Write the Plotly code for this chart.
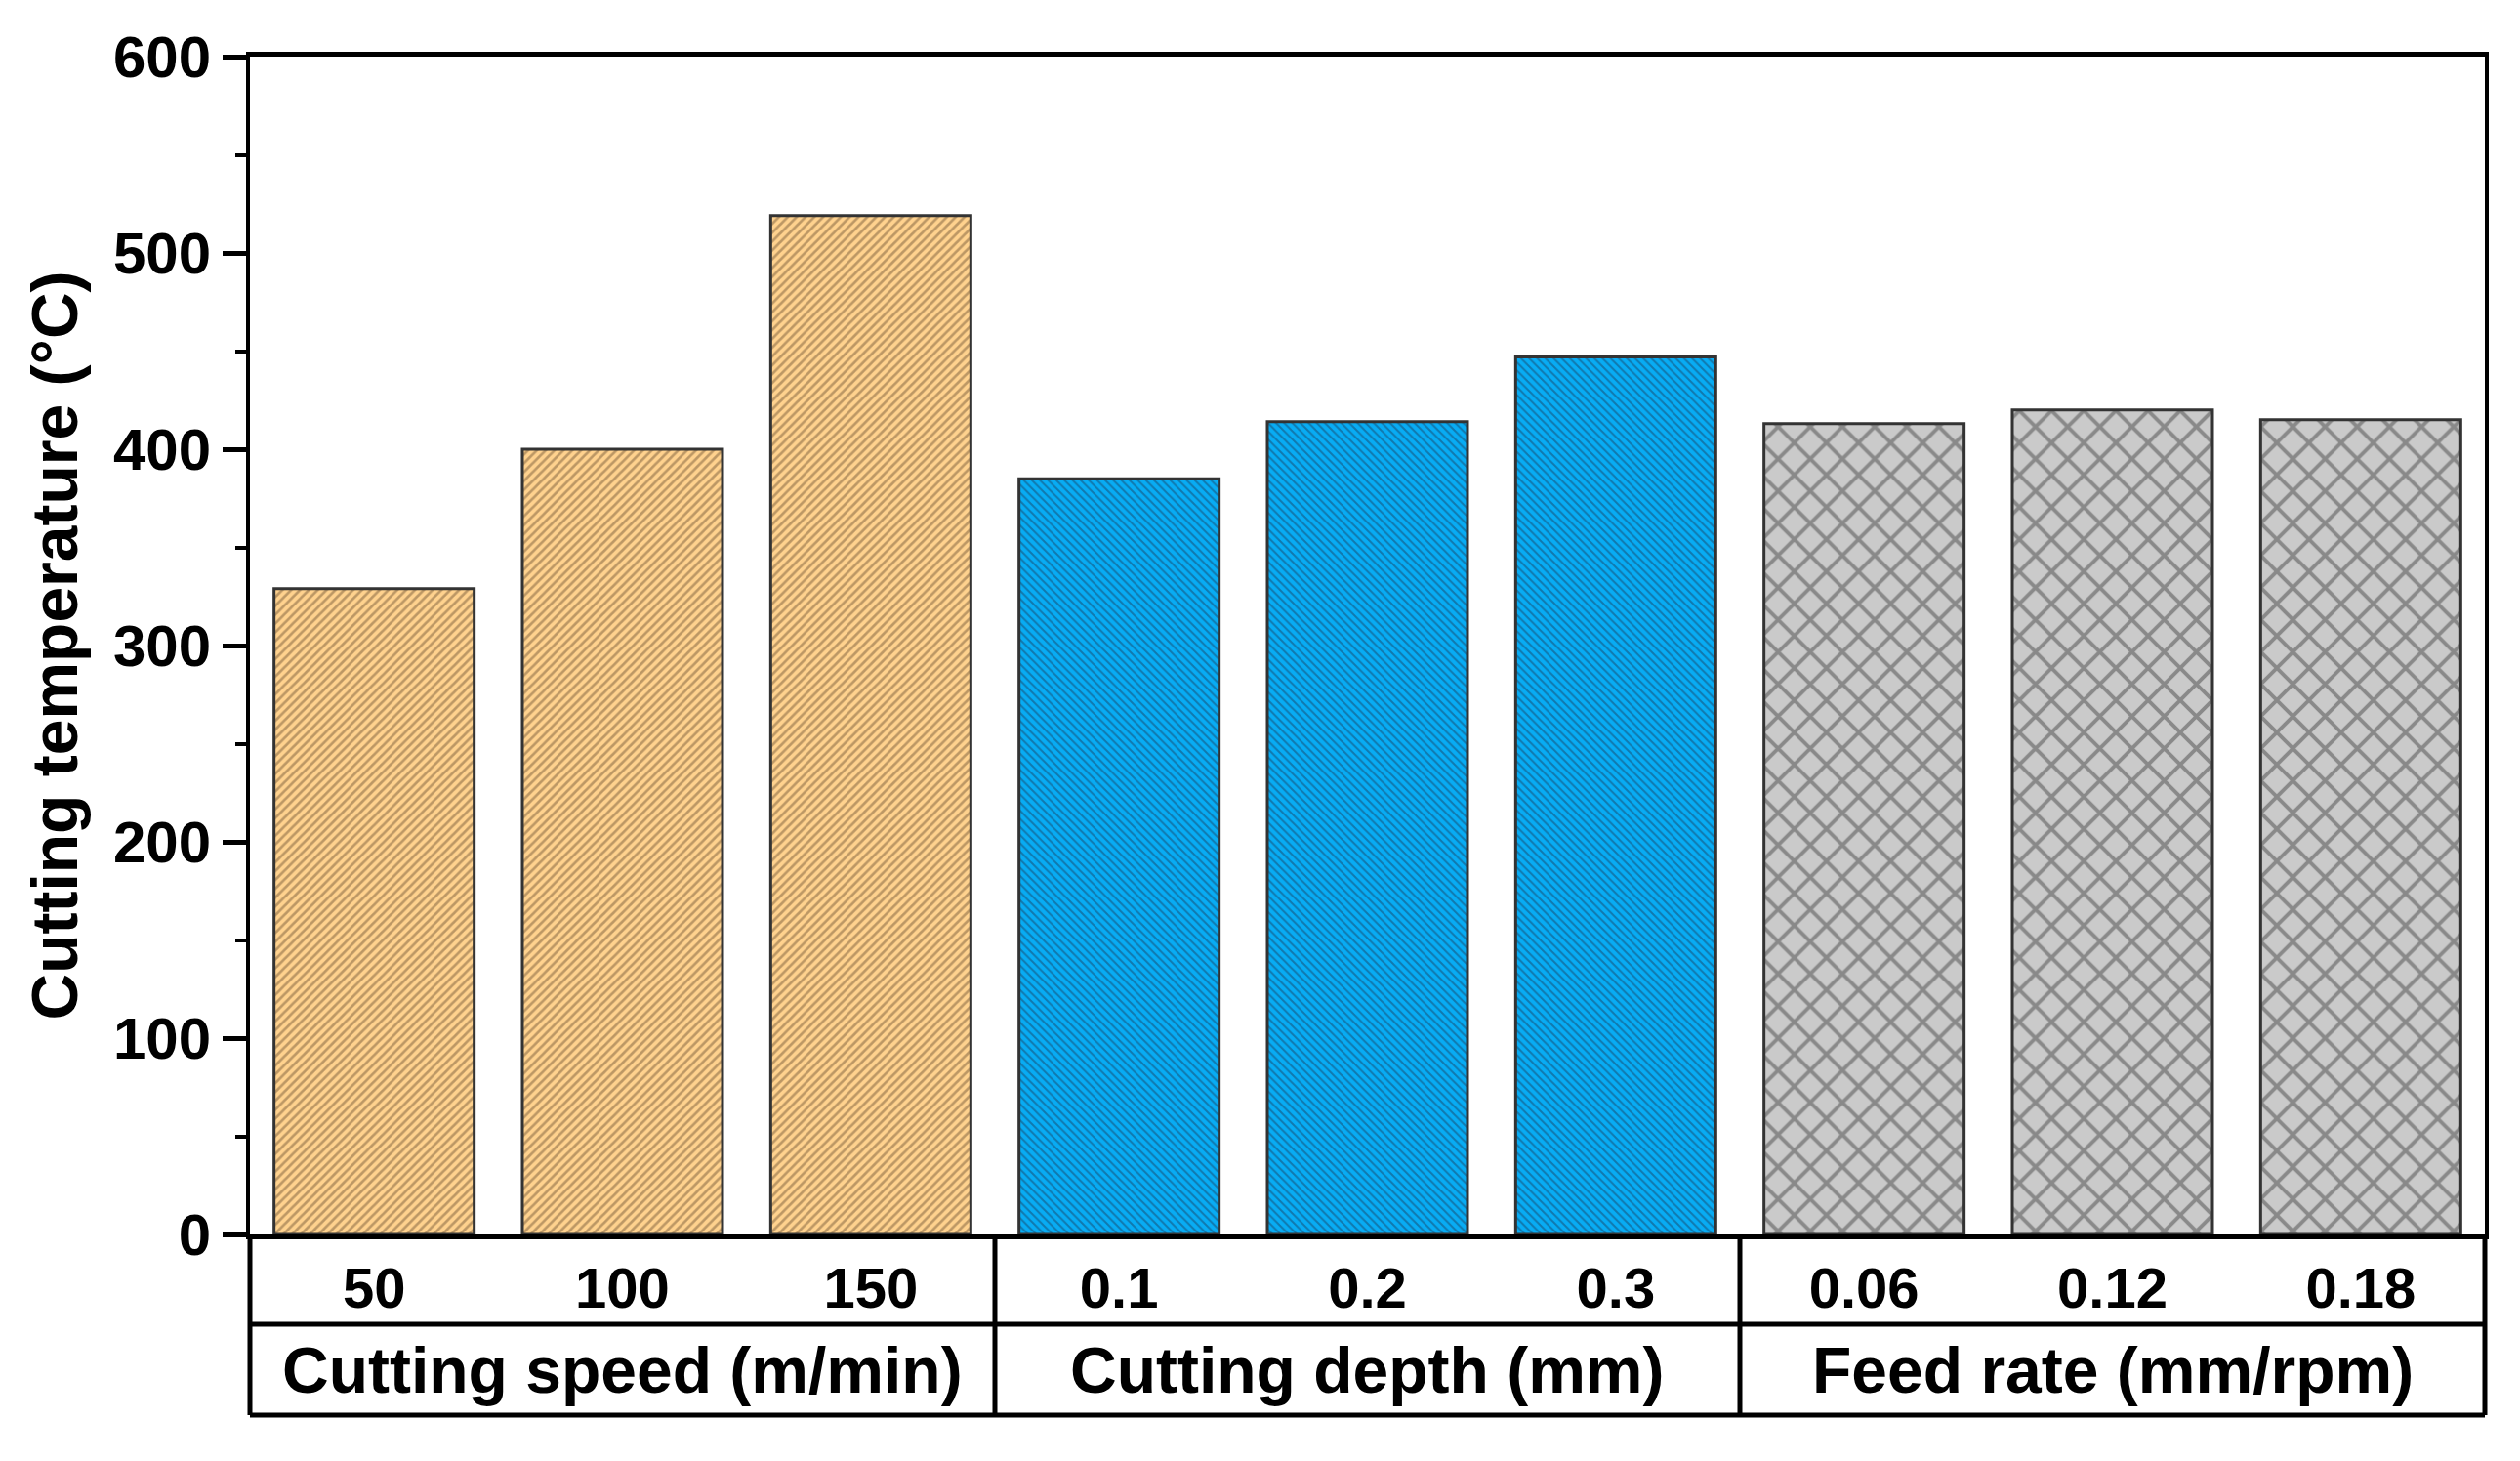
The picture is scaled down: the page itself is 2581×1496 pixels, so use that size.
import plotly.graph_objects as go

# ---- data ----
categories = ["50", "100", "150", "0.1", "0.2", "0.3", "0.06", "0.12", "0.18"]
cutting_speed_values = [329, 400, 519]
cutting_depth_values = [385, 414, 447]
feed_rate_values = [413, 420, 415]
group_names = ["Cutting speed (m/min)", "Cutting depth (mm)", "Feed rate (mm/rpm)"]
y_ticks = [0, 100, 200, 300, 400, 500, 600]
y_title = "Cutting temperature (°C)"

W, H = 2581, 1496
L, R, T, B = 256, 36, 58, 232
FONT = "Liberation Sans, Arial, sans-serif"

groups = [
    (categories[0:3], cutting_speed_values,
     dict(shape="/", bg="#FFD28E", fg="#7A5C3A", size=6.4, solidity=0.42)),
    (categories[3:6], cutting_depth_values,
     dict(shape="\\", bg="#08ACF4", fg="#1A4466", size=5.9, solidity=0.34)),
    (categories[6:9], feed_rate_values,
     dict(shape="x", bg="#CACACA", fg="#474747", size=23.3, solidity=0.3)),
]

fig = go.Figure()
for cats, vals, st in groups:
    fig.add_trace(go.Bar(
        x=cats, y=vals,
        marker=dict(
            color=st["bg"],
            line=dict(color="#333333", width=3),
            pattern=dict(shape=st["shape"], fgcolor=st["fg"], size=st["size"],
                         solidity=st["solidity"], fillmode="overlay"),
        ),
        showlegend=False,
    ))

n = len(categories)
plot_h = H - T - B
row1 = -(1356 - (H - B)) / plot_h
row2 = -(1449 - (H - B)) / plot_h

shapes = []
line = dict(color="black", width=5)
for b in [0, 3, 6, 9]:
    shapes.append(dict(type="line", xref="paper", yref="paper", x0=b / n, x1=b / n,
                       y0=0, y1=row2, line=line))
for yy in [row1, row2]:
    shapes.append(dict(type="line", xref="paper", yref="paper", x0=0, x1=1,
                       y0=yy, y1=yy, line=line))

annotations = []
for gi, name in enumerate(group_names):
    annotations.append(dict(
        x=(gi * 3 + 1.5) / n, y=(row1 + row2) / 2, xref="paper", yref="paper",
        text=name, showarrow=False, xanchor="center", yanchor="middle",
        font=dict(family=FONT, size=66, color="black", weight="bold"),
    ))

fig.update_layout(
    width=W, height=H,
    margin=dict(l=L, r=R, t=T, b=B, pad=0),
    paper_bgcolor="white", plot_bgcolor="white",
    barmode="overlay", bargap=0.194,
    shapes=shapes, annotations=annotations,
    font=dict(family=FONT, color="black"),
)
fig.update_xaxes(
    type="category", categoryorder="array", categoryarray=categories,
    range=[-0.5, n - 0.5],
    showline=True, linewidth=5, linecolor="black", mirror=True,
    ticks="", showgrid=False, zeroline=False,
    tickfont=dict(family=FONT, size=58, color="black", weight="bold"),
    ticklabelstandoff=0,
)
fig.update_yaxes(
    range=[0, 600], tickvals=y_ticks,
    showline=True, linewidth=4, linecolor="black", mirror=True,
    ticks="outside", ticklen=24, tickwidth=5, tickcolor="black",
    minor=dict(dtick=50, ticks="outside", ticklen=11, tickwidth=4, tickcolor="black"),
    showgrid=False, zeroline=False,
    tickfont=dict(family=FONT, size=60, color="black", weight="bold"),
    title=dict(text=y_title, font=dict(family=FONT, size=66, color="black", weight="bold"),
               standoff=16),
)

fig.write_html("out.html", config={"displayModeBar": False},
               post_script="document.body.style.margin='0';")
